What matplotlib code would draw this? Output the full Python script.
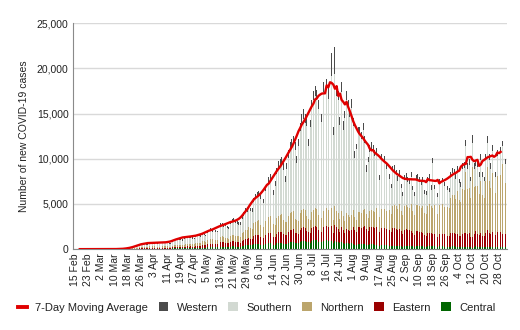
import matplotlib
matplotlib.use("Agg")
import matplotlib.pyplot as plt
import numpy as np
import pandas as pd
from matplotlib.lines import Line2D
from matplotlib.patches import Patch

plt.rcParams['font.family'] = ['Liberation Sans', 'DejaVu Sans']

start_date = "2020-02-15"

tick_labels = ["15 Feb", "23 Feb", "2 Mar", "10 Mar", "18 Mar", "26 Mar", "3 Apr",
               "11 Apr", "19 Apr", "27 Apr", "5 May", "13 May", "21 May", "29 May",
               "6 Jun", "14 Jun", "22 Jun", "30 Jun", "8 Jul", "16 Jul", "24 Jul",
               "1 Aug", "9 Aug", "17 Aug", "25 Aug", "2 Sep", "10 Sep", "18 Sep",
               "26 Sep", "4 Oct", "12 Oct", "20 Oct", "28 Oct"]

central = [
    0, 0, 0, 0, 0, 0, 0,
    0, 0, 0, 0, 0, 0, 0,
    0, 0, 0, 0, 0, 0, 0,
    0, 0, 0, 0, 0, 0, 0,
    1, 1, 1, 2, 4, 8, 10,
    15, 15, 20, 25, 30, 35, 40,
    45, 40, 40, 45, 50, 53, 45,
    50, 45, 45, 55, 55, 55, 55,
    65, 60, 60, 75, 85, 90, 100,
    100, 95, 90, 110, 115, 120, 110,
    130, 115, 115, 140, 150, 155, 140,
    175, 170, 160, 200, 225, 230, 215,
    210, 195, 185, 235, 255, 260, 245,
    250, 235, 225, 280, 300, 310, 290,
    280, 270, 265, 335, 370, 405, 415,
    430, 415, 405, 515, 550, 565, 575,
    480, 450, 440, 560, 610, 640, 665,
    545, 505, 490, 630, 680, 700, 715,
    620, 585, 570, 715, 775, 795, 810,
    710, 690, 660, 840, 900, 930, 900,
    800, 740, 715, 905, 960, 990, 970,
    825, 775, 750, 925, 975, 1000, 950,
    765, 900, 630, 950, 830, 790, 660,
    740, 640, 540, 700, 660, 620, 665,
    600, 500, 450, 560, 560, 540, 580,
    560, 480, 420, 520, 530, 520, 500,
    500, 430, 380, 470, 480, 460, 430,
    420, 360, 320, 390, 400, 380, 350,
    380, 320, 280, 360, 370, 350, 340,
    360, 300, 270, 350, 350, 340, 320,
    320, 260, 255, 320, 330, 315, 300,
    300, 240, 235, 295, 310, 300, 280,
    280, 240, 230, 290, 300, 300, 280,
    260, 220, 210, 270, 290, 280, 270,
    250, 190, 180, 230, 300, 230, 210,
    240, 200, 190, 240, 280, 240, 220,
    250, 200, 190, 240, 290, 240, 210,
    240, 220]

eastern = [
    0, 0, 0, 0, 0, 0, 0,
    0, 0, 0, 0, 0, 0, 0,
    0, 0, 0, 0, 0, 0, 0,
    0, 0, 0, 0, 0, 0, 1,
    2, 2, 3, 4, 8, 12, 15,
    20, 25, 30, 40, 50, 60, 65,
    60, 55, 50, 65, 70, 72, 65,
    70, 65, 60, 75, 80, 80, 75,
    90, 85, 80, 115, 125, 140, 150,
    150, 140, 130, 160, 175, 180, 170,
    180, 170, 165, 200, 215, 220, 210,
    300, 290, 270, 340, 380, 390, 365,
    440, 410, 390, 495, 540, 550, 515,
    475, 440, 425, 525, 570, 585, 545,
    495, 480, 470, 590, 655, 720, 735,
    770, 735, 720, 910, 975, 1010, 1025,
    840, 785, 770, 980, 1065, 1120, 1160,
    935, 865, 840, 1080, 1165, 1200, 1225,
    1045, 990, 970, 1210, 1310, 1340, 1375,
    1120, 1090, 1045, 1330, 1425, 1470, 1425,
    1230, 1150, 1105, 1400, 1490, 1530, 1495,
    1320, 1240, 1200, 1480, 1560, 1600, 1520,
    1445, 1700, 1190, 1750, 1570, 1490, 1240,
    1665, 1440, 1215, 1575, 1485, 1395, 1495,
    1900, 1600, 1450, 1850, 1850, 1800, 1900,
    2000, 1750, 1550, 1900, 1950, 1900, 1850,
    2000, 1750, 1550, 1900, 1950, 1900, 1800,
    2000, 1750, 1550, 1900, 1950, 1900, 1800,
    1900, 1650, 1450, 1800, 1850, 1800, 1750,
    1700, 1500, 1350, 1650, 1650, 1600, 1550,
    1450, 1250, 1200, 1450, 1500, 1450, 1400,
    1400, 1200, 1150, 1400, 1450, 1400, 1350,
    1400, 1250, 1200, 1450, 1500, 1500, 1400,
    1400, 1250, 1200, 1450, 1550, 1500, 1450,
    1500, 1200, 1150, 1400, 1700, 1400, 1300,
    1550, 1300, 1250, 1550, 1800, 1550, 1450,
    1700, 1400, 1350, 1650, 1900, 1650, 1450,
    1600, 1500]

northern = [
    0, 0, 0, 0, 0, 0, 0,
    0, 0, 0, 0, 0, 0, 0,
    0, 0, 0, 0, 0, 0, 0,
    0, 0, 0, 1, 1, 2, 3,
    5, 6, 8, 14, 20, 32, 45,
    55, 70, 85, 110, 140, 160, 175,
    175, 160, 150, 190, 205, 210, 190,
    190, 170, 165, 200, 215, 220, 200,
    150, 145, 140, 190, 210, 230, 250,
    210, 195, 185, 230, 245, 255, 240,
    280, 260, 250, 310, 330, 340, 320,
    400, 390, 370, 460, 520, 530, 495,
    480, 450, 430, 545, 600, 610, 565,
    560, 520, 500, 620, 670, 690, 640,
    680, 660, 650, 815, 900, 990, 1010,
    1200, 1150, 1125, 1425, 1525, 1575, 1600,
    1320, 1230, 1210, 1540, 1670, 1760, 1825,
    1480, 1370, 1330, 1710, 1845, 1900, 1940,
    1520, 1440, 1410, 1760, 1905, 1950, 2000,
    1535, 1495, 1430, 1820, 1950, 2015, 1950,
    1595, 1485, 1430, 1815, 1925, 1980, 1935,
    1650, 1550, 1500, 1850, 1950, 2000, 1900,
    1700, 2000, 1400, 2100, 1850, 1750, 1460,
    1850, 1600, 1350, 1750, 1650, 1550, 1660,
    1800, 1500, 1350, 1750, 1750, 1700, 1800,
    1900, 1650, 1450, 1800, 1850, 1800, 1750,
    2100, 1850, 1650, 2050, 2100, 2050, 1950,
    2600, 2250, 2000, 2500, 2550, 2450, 2300,
    2700, 2300, 2050, 2600, 2650, 2550, 2450,
    2900, 2450, 2200, 2850, 2900, 2800, 2650,
    3000, 2500, 2450, 3050, 3150, 3000, 2850,
    3200, 2650, 2550, 3200, 3400, 3250, 3050,
    3800, 3200, 3100, 3950, 4200, 4150, 3850,
    4800, 4000, 3800, 4950, 4700, 6800, 4950,
    5000, 4300, 7800, 5200, 5000, 5300, 4600,
    5700, 4500, 4200, 5700, 7000, 5700, 5100,
    6500, 5000, 4700, 6200, 6000, 6300, 7800,
    6300, 5600]

southern = [
    0, 0, 0, 0, 0, 0, 0,
    0, 0, 0, 0, 0, 0, 0,
    0, 0, 0, 0, 0, 0, 0,
    1, 0, 2, 3, 5, 7, 12,
    12, 15, 20, 28, 40, 60, 75,
    90, 110, 135, 170, 210, 240, 250,
    270, 245, 230, 285, 310, 320, 285,
    290, 260, 250, 305, 320, 330, 305,
    340, 320, 315, 430, 470, 520, 560,
    600, 550, 530, 650, 700, 720, 670,
    630, 585, 560, 700, 740, 765, 720,
    700, 680, 640, 800, 900, 920, 860,
    945, 880, 840, 1065, 1170, 1190, 1105,
    1230, 1145, 1100, 1365, 1475, 1520, 1410,
    1335, 1290, 1270, 1590, 1765, 1935, 1980,
    2015, 1930, 1890, 2395, 2560, 2645, 2690,
    2880, 2690, 2640, 3360, 3650, 3840, 3985,
    4215, 3200, 4300, 4860, 5235, 5400, 5505,
    5555, 4400, 5900, 6435, 6960, 7135, 7315,
    7610, 6200, 8300, 9030, 9675, 10000, 9675,
    10005, 8000, 10300, 11385, 12075, 12420, 12145,
    11715, 11005, 10650, 13135, 12845, 13000, 12290,
    11570, 14600, 9440, 14600, 12640, 12420, 10365,
    13135, 9500, 11400, 12425, 11715, 11005, 11785,
    9330, 6500, 7800, 8530, 8530, 8180, 8880,
    7240, 4700, 6200, 6530, 6710, 6530, 6180,
    5880, 4850, 4080, 5400, 5570, 5220, 4700,
    4330, 3400, 2860, 3810, 3790, 3500, 3120,
    3250, 2460, 2110, 2910, 2980, 2780, 2660,
    2990, 2300, 2070, 2820, 2860, 2740, 2590,
    2710, 2070, 2085, 2660, 2780, 1800, 5000,
    1700, 1910, 1875, 2415, 2520, 2450, 2250,
    2190, 1860, 1830, 2260, 2420, 2380, 2240,
    2140, 1830, 1710, 2210, 2390, 2800, 2210,
    2550, 1810, 2600, 2070, 2200, 2150, 1850,
    2360, 1970, 1860, 2360, 2620, 2360, 2130,
    2350, 1850, 1740, 2260, 2460, 2430, 1970,
    2210, 2080]

western = [
    0, 0, 0, 0, 0, 0, 0,
    0, 0, 0, 0, 0, 0, 0,
    0, 0, 0, 0, 0, 0, 0,
    0, 0, 1, 1, 2, 3, 4,
    5, 6, 8, 12, 18, 28, 35,
    40, 50, 60, 75, 90, 105, 110,
    110, 100, 90, 115, 125, 125, 115,
    120, 110, 100, 125, 130, 135, 125,
    115, 110, 105, 140, 160, 170, 190,
    190, 170, 165, 200, 215, 225, 210,
    180, 170, 160, 200, 215, 220, 210,
    175, 170, 160, 200, 225, 230, 215,
    225, 215, 205, 260, 285, 290, 270,
    285, 260, 250, 310, 335, 345, 315,
    310, 300, 295, 370, 410, 450, 460,
    385, 370, 360, 455, 490, 505, 510,
    480, 445, 440, 560, 605, 640, 665,
    625, 575, 560, 720, 775, 800, 815,
    760, 720, 700, 880, 950, 980, 1000,
    825, 805, 770, 980, 1050, 1085, 1050,
    870, 810, 780, 990, 1050, 1080, 1055,
    990, 930, 900, 1110, 1170, 1200, 1140,
    1020, 2500, 840, 3000, 1110, 1050, 875,
    1110, 960, 810, 1050, 990, 930, 995,
    870, 720, 630, 810, 810, 780, 840,
    800, 680, 600, 750, 760, 750, 720,
    720, 620, 540, 680, 700, 670, 620,
    650, 540, 470, 600, 610, 570, 530,
    570, 470, 410, 530, 550, 520, 500,
    550, 450, 410, 530, 540, 520, 490,
    520, 420, 410, 520, 540, 510, 480,
    500, 400, 390, 490, 520, 500, 470,
    530, 450, 440, 550, 580, 570, 530,
    600, 500, 480, 620, 670, 650, 620,
    700, 500, 900, 600, 600, 620, 540,
    650, 530, 500, 650, 800, 650, 600,
    700, 550, 520, 650, 850, 680, 570,
    650, 600]

series_names = ["Central", "Eastern", "Northern", "Southern", "Western"]
series_colors = {"Western": "#4b4b4b", "Southern": "#d2d9d2", "Northern": "#bba56c",
                 "Eastern": "#9a0000", "Central": "#006600"}
ma_color = "#e00000"

n = len(southern)
dates = pd.date_range(start_date, periods=n, freq="D")
df = pd.DataFrame({"Central": central, "Eastern": eastern, "Northern": northern,
                   "Southern": southern, "Western": western}, index=dates)
total = df.sum(axis=1)
ma = total.rolling(7, center=True).mean()

fig = plt.figure(figsize=(5.2, 3.3), dpi=100)
ax = fig.add_axes([0.140, 0.245, 0.835, 0.685])

bottom = np.zeros(n)
for name in series_names:
    ax.bar(dates, df[name].values, bottom=bottom, width=0.55,
           color=series_colors[name], linewidth=0, zorder=2)
    bottom = bottom + df[name].values

ax.plot(dates, ma.values, color=ma_color, linewidth=1.7, zorder=3)

ax.set_ylim(0, 25000)
ax.set_yticks(np.arange(0, 25001, 5000))
ax.yaxis.set_major_formatter(matplotlib.ticker.FuncFormatter(lambda v, p: f"{int(v):,}"))
ax.set_xlim(dates[0] - pd.Timedelta(hours=29), dates[-1] + pd.Timedelta(hours=20))
tick_dates = pd.to_datetime([t + " 2020" for t in tick_labels], format="%d %b %Y")
ax.set_xticks(tick_dates)
ax.set_xticklabels(tick_labels, rotation=90)

ax.grid(axis="y", color="#d9d9d9", linewidth=1.0, zorder=0)
ax.set_axisbelow(True)
for s in ["top", "right"]:
    ax.spines[s].set_visible(False)
ax.spines["left"].set_color("#8a8a8a")
ax.spines["bottom"].set_color("#8a8a8a")
ax.tick_params(axis="both", length=0, labelsize=7.5, colors="#222222", pad=3)
ax.set_ylabel("Number of new COVID-19 cases", fontsize=7.5, color="#222222", labelpad=6)

handles = [Line2D([0], [0], color=ma_color, linewidth=2.8)]
labels = ["7-Day Moving Average"]
for name in ["Western", "Southern", "Northern", "Eastern", "Central"]:
    handles.append(Patch(facecolor=series_colors[name], edgecolor="none"))
    labels.append(name)
fig.legend(handles, labels, loc="center", bbox_to_anchor=(0.493, 0.068), ncol=6,
           frameon=False, fontsize=8, handlelength=0.85, handleheight=0.85,
           handletextpad=0.75, columnspacing=0.95, labelcolor="#222222")

fig.savefig("out.png", dpi=100)
